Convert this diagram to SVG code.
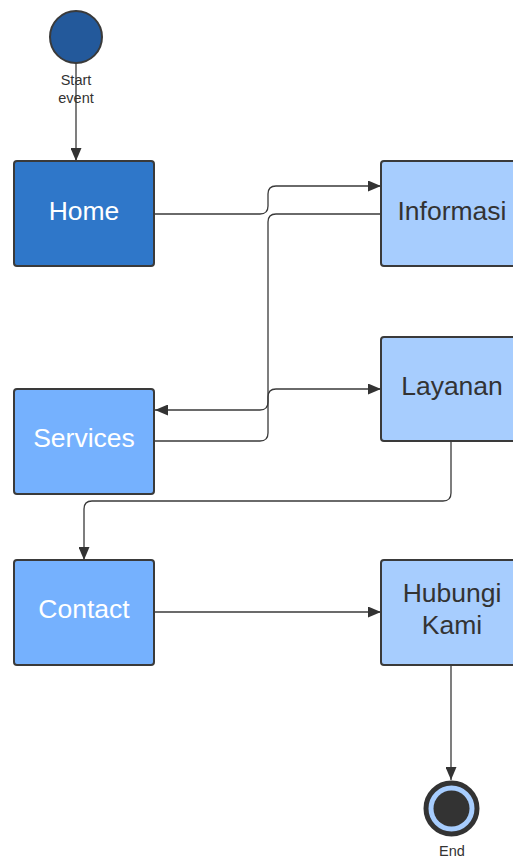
<svg xmlns="http://www.w3.org/2000/svg" width="513" height="861" viewBox="0 0 513 861">
<defs>
<style>
.box{stroke:#3a3a3a;stroke-width:2}
.dark{fill:#2f77c9}
.mid{fill:#75b1fe}
.light{fill:#a7cdfe}
.wt{fill:#ffffff;font-family:"Liberation Sans",Arial,sans-serif;font-size:26.5px;text-anchor:middle}
.bt{fill:#333333;font-family:"Liberation Sans",Arial,sans-serif;font-size:26.5px;text-anchor:middle}
.sm{fill:#333333;font-family:"Liberation Sans",Arial,sans-serif;font-size:14.5px;text-anchor:middle}
.conn{fill:none;stroke:#3a3a3a;stroke-width:1.3}
</style>
<marker id="arr" viewBox="0 0 13 11" refX="13" refY="5.5" markerWidth="13" markerHeight="11" markerUnits="userSpaceOnUse" orient="auto">
<path d="M0,0 L13,5.5 L0,11 Z" fill="#333333"/>
</marker>
</defs>
<rect width="513" height="861" fill="#ffffff"/>
<g id="connectors">
<path class="conn" d="M76,63 V161" marker-end="url(#arr)"/>
<path class="conn" d="M154,214 H260 Q268,214 268,206 V194 Q268,186 276,186 H381" marker-end="url(#arr)"/>
<path class="conn" d="M381,214 H276 Q268,214 268,222 V402 Q268,410 260,410 H155" marker-end="url(#arr)"/>
<path class="conn" d="M154,441 H260 Q268,441 268,433 V397 Q268,389 276,389 H381" marker-end="url(#arr)"/>
<path class="conn" d="M451,441 V493 Q451,501 443,501 H92 Q84,501 84,509 V560" marker-end="url(#arr)"/>
<path class="conn" d="M154,612 H381" marker-end="url(#arr)"/>
<path class="conn" d="M451,665 V780" marker-end="url(#arr)"/>
</g>
<g id="start">
<circle cx="76" cy="37" r="26" fill="#23599b" stroke="#3a3a3a" stroke-width="2"/>
<text class="sm" x="76" y="85">Start</text>
<text class="sm" x="76" y="103">event</text>
</g>
<g id="home">
<rect class="box dark" x="14" y="161" width="140" height="105" rx="3"/>
<text class="wt" x="84" y="220">Home</text>
</g>
<g id="informasi">
<rect class="box light" x="381" y="161" width="140" height="105" rx="3"/>
<text class="bt" x="452" y="220">Informasi</text>
</g>
<g id="services">
<rect class="box mid" x="14" y="389" width="140" height="105" rx="3"/>
<text class="wt" x="84" y="447">Services</text>
</g>
<g id="layanan">
<rect class="box light" x="381" y="337" width="140" height="104" rx="3"/>
<text class="bt" x="452" y="395">Layanan</text>
</g>
<g id="contact">
<rect class="box mid" x="14" y="560" width="140" height="105" rx="3"/>
<text class="wt" x="84" y="618">Contact</text>
</g>
<g id="hubungi">
<rect class="box light" x="381" y="560" width="140" height="105" rx="3"/>
<text class="bt" x="452" y="602">Hubungi</text>
<text class="bt" x="452" y="634">Kami</text>
</g>
<g id="end">
<circle cx="451.5" cy="808.5" r="25.5" fill="#a7cdfe" stroke="#333333" stroke-width="5"/>
<circle cx="451.5" cy="808.5" r="18" fill="#333333"/>
<text class="sm" x="452" y="856">End</text>
</g>
</svg>
